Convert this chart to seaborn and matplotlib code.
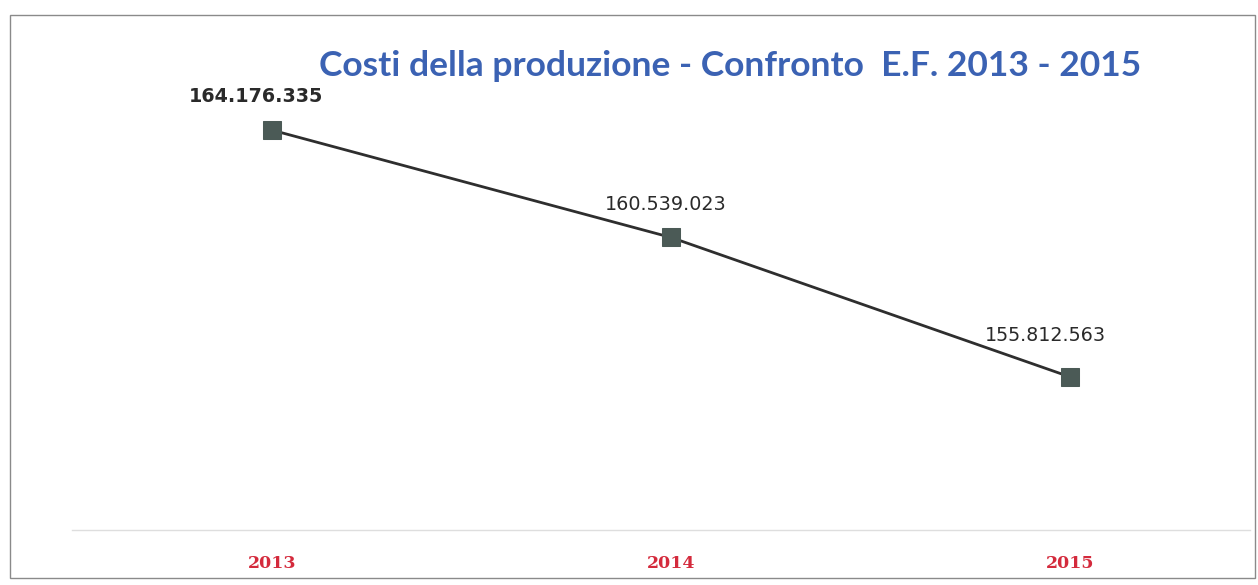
import matplotlib
matplotlib.use("Agg")
import matplotlib.pyplot as plt
from matplotlib.patches import Rectangle
import seaborn as sns
import pandas as pd

# Costi della produzione per esercizio finanziario
anni = ["2013", "2014", "2015"]
costi = [164176335, 160539023, 155812563]

df = pd.DataFrame({"pos": range(len(anni)), "costi": costi})

sns.set_theme(style="white")
plt.rcParams["font.family"] = ["DejaVu Sans"]

fig = plt.figure(figsize=(12.58, 5.85), dpi=100)
ax = fig.add_axes([72 / 1258, 1 - 530 / 585, (1250 - 72) / 1258, (530 - 70) / 585])

sns.lineplot(data=df, x="pos", y="costi", ax=ax, color="#2e2e2e", linewidth=2.0,
             marker="s", markersize=12.5, markerfacecolor="#4b5a56",
             markeredgecolor="#4b5a56", zorder=3)

ax.set_xlim(-0.5, 2.45)
ax.set_ylim(150.63e6, 166.21e6)

ax.set_xticks(range(len(anni)))
ax.set_xticklabels(anni, color="#d42a3c", fontweight="bold",
                   fontsize=12.5, family="DejaVu Serif")
ax.tick_params(axis="x", length=0, pad=18)
ax.set_yticks([])
ax.set_xlabel("")
ax.set_ylabel("")

for side in ["left", "right", "top"]:
    ax.spines[side].set_visible(False)
ax.spines["bottom"].set_color("#dedede")
ax.spines["bottom"].set_linewidth(1.0)

# etichette dei valori sopra i punti
offsets = [(-11, 24), (-4, 24), (-18, 30)]
weights = ["bold", "normal", "normal"]
for i, (v, off, w) in enumerate(zip(costi, offsets, weights)):
    ax.annotate(f"{v:,}".replace(",", "."), xy=(i, v), xytext=off,
                textcoords="offset points", ha="center", va="center",
                fontsize=13.8, fontweight=w, color="#2a2a2a")

fig.text(730 / 1258, 1 - 66 / 585, "Costi della produzione - Confronto  E.F. 2013 - 2015",
         ha="center", va="center", fontsize=25.5, fontweight="bold",
         color="#3b62b3", family="Lato")

# cornice del grafico
fig.patches.append(Rectangle((10 / 1258, 1 - 578 / 585), (1255 - 10) / 1258,
                             (578 - 15) / 585, transform=fig.transFigure,
                             fill=False, edgecolor="#8a8a8a", linewidth=1.0))

fig.savefig("out.png", dpi=100, facecolor="white")
